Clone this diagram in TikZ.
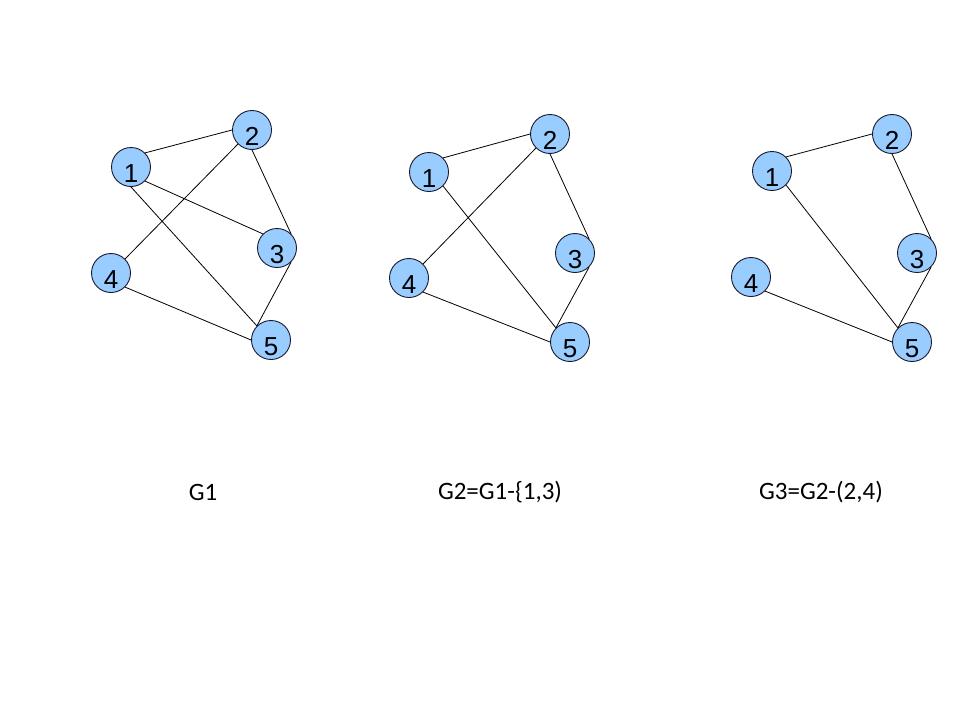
\documentclass[tikz,border=0pt]{standalone}
\usepackage{fontspec}
\setmainfont{Liberation Sans}
\newfontfamily\capfont{Carlito}
\usepackage{xcolor}
\usepackage{tikz}
\definecolor{vblue}{HTML}{99CCFF}
\definecolor{vline}{HTML}{1A1A2E}
\tikzset{
  vert/.style={circle,draw=vline,fill=vblue,line width=0.9pt,minimum size=39pt,inner sep=0pt,
    font=\fontsize{26}{26}\selectfont,text height=31pt,text depth=0pt},
  edge/.style={draw=black,line width=0.8pt},
  caption/.style={font=\capfont\fontsize{25}{25}\selectfont}
}
\begin{document}
\begin{tikzpicture}[x=1pt,y=-1pt]
\useasboundingbox (0,0) rectangle (960,720);
% three graphs side by side
\foreach \v/\x/\y in {1/131/167,2/252/130,3/277/248,4/111/273,5/271/340}
  {\node[vert] (a\v) at (\x,\y) {\v};}
\foreach \v/\x/\y in {1/429/172,2/550/134,3/575/253,4/409/278,5/570/342}
  {\node[vert] (b\v) at (\x,\y) {\v};}
\foreach \v/\x/\y in {1/772/171,2/892/134,3/917/253,4/751/277,5/912/342}
  {\node[vert] (c\v) at (\x,\y) {\v};}
% edges meet the circles at their 45-degree points
\foreach \s/\t in {1.north east/2.west,1.south east/3.north west,1.south/5.north west,
    2.south west/4.north east,2.south/3.north east,3.south east/5.north west,4.south east/5.west}
  {\draw[edge] (a\s) -- (a\t);}
\foreach \s/\t in {1.north east/2.west,1.south east/5.north west,2.south west/4.north east,
    2.south/3.north east,3.south east/5.north west,4.south east/5.west}
  {\draw[edge] (b\s) -- (b\t);}
\foreach \s/\t in {1.north east/2.west,1.south east/5.north west,
    2.south/3.north east,3.south east/5.north west,4.south east/5.west}
  {\draw[edge] (c\s) -- (c\t);}
\node[caption] (capa) at (203,492) {G1};
\node[caption] (capb) at (500,492) {G2=G1-\{1,3)};
\node[caption] (capc) at (821,492) {G3=G2-(2,4)};
\end{tikzpicture}
\end{document}
